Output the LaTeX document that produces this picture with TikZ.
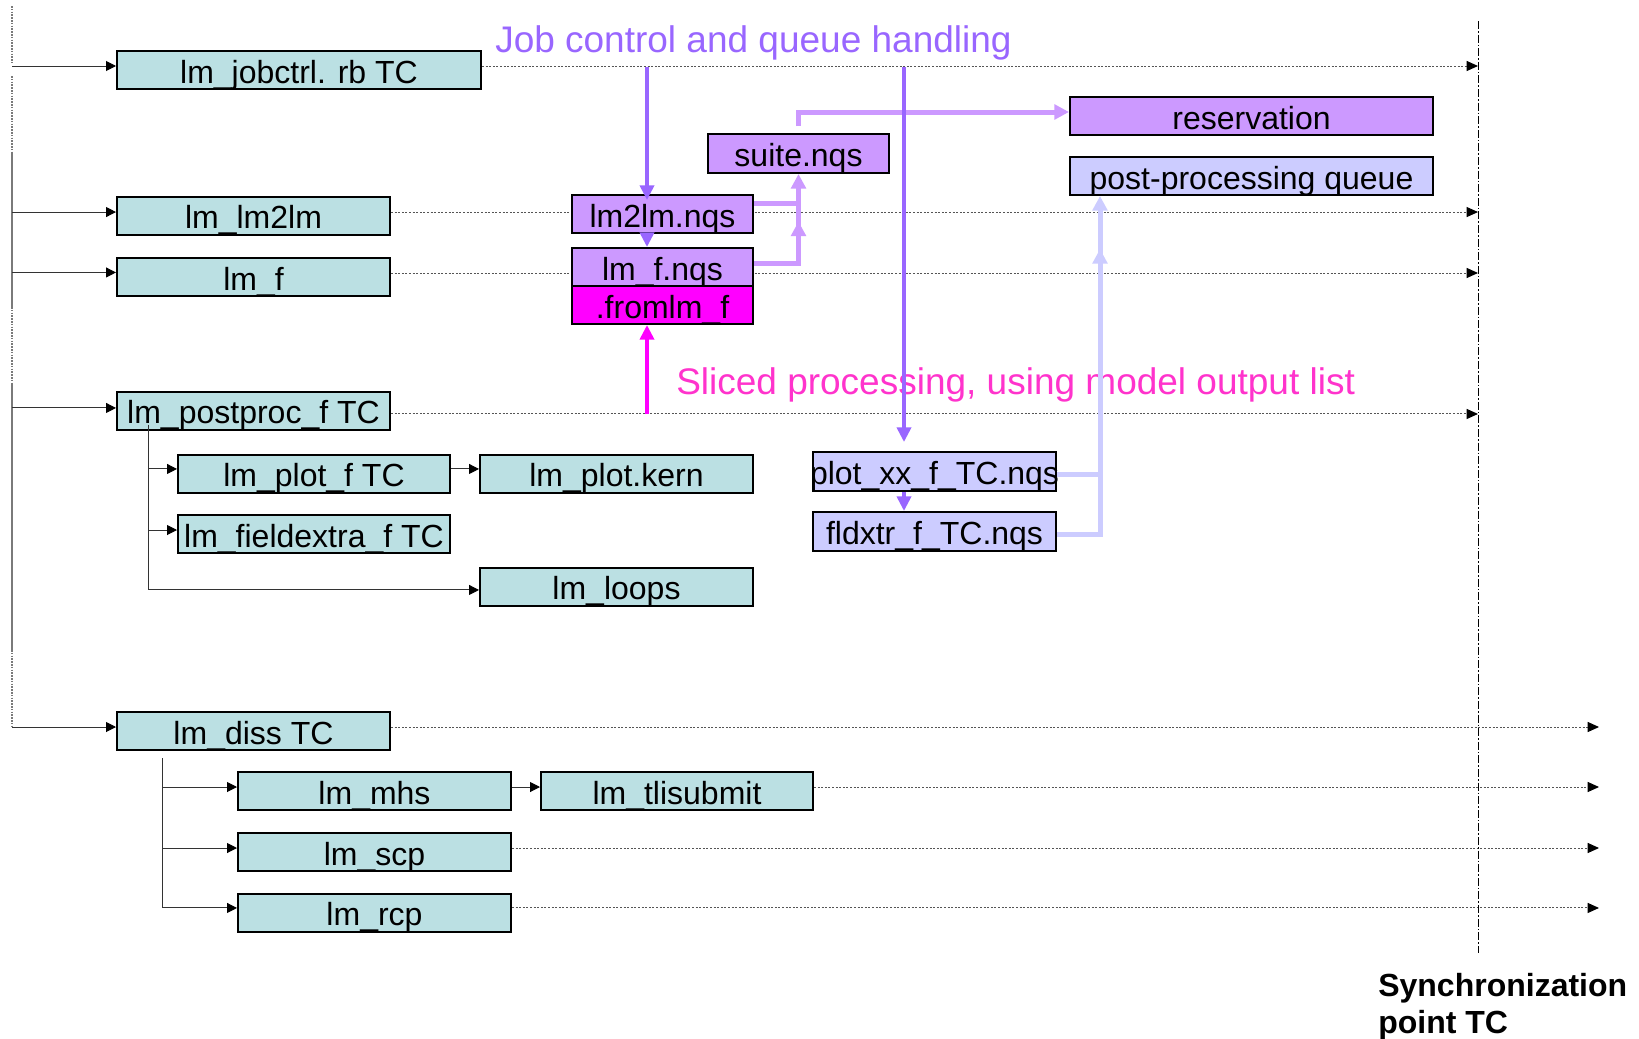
\documentclass[tikz,border=0pt]{standalone}
\usepackage{fontspec}
\setmainfont{Liberation Sans}
\usetikzlibrary{arrows.meta,calc,backgrounds,decorations.markings}
\definecolor{tealbox}{HTML}{BBE0E3}
\definecolor{purbox}{HTML}{CC99FF}
\definecolor{lavbox}{HTML}{CCCCFF}
\definecolor{magbox}{HTML}{FF00FF}
\definecolor{jobcol}{HTML}{9966FF}
\definecolor{slicol}{HTML}{FF33CC}
\definecolor{dotcol}{HTML}{555555}
\definecolor{treecol}{HTML}{333333}
\definecolor{spinecol}{HTML}{7A7A7A}
\tikzset{
  box/.style={draw=black, line width=1.5pt, inner sep=0pt, font=\fontsize{24}{28}\selectfont, text height=19.5pt, text depth=0pt},
  sz/.style 2 args={minimum width=#1*0.75pt, minimum height=#2*0.75pt},
  tbox/.style={box, fill=tealbox},
  pbox/.style={box, fill=purbox},
  lbox/.style={box, fill=lavbox},
  mbox/.style={box, fill=magbox},
  dotline/.style={draw=dotcol, line width=0.75pt, dash pattern=on 1.5pt off 1.2pt, -{Triangle[length=8.5pt,width=7.5pt,black]}},
  tarr/.style={draw=treecol, line width=0.75pt, -{Triangle[length=7.5pt,width=7.5pt,black]}},
  spsolid/.style={draw=spinecol, line width=1.5pt},
  spdot/.style={draw=spinecol, line width=1.5pt, dash pattern=on 1.2pt off 0.9pt},
  syncl/.style={draw=black, line width=0.75pt, dash pattern=on 6pt off 1.5pt on 1.2pt off 1.5pt},
  jarrow/.style={draw=jobcol, line width=3pt, -{Triangle[length=11pt,width=10.5pt]}},
  marrow/.style={draw=magbox, line width=3pt, -{Triangle[length=11pt,width=10.5pt]}},
  lpline/.style={draw=purbox, line width=3.75pt},
  lvline/.style={draw=lavbox, line width=3.75pt},
  ltip/.style={-{Triangle[length=11pt,width=11pt]}},
  midarr/.style={postaction=decorate, decoration={markings, mark=at position #1 with {\arrow{Triangle[length=11pt,width=11pt]}}}},
  bigtext/.style={anchor=base west, inner sep=0pt, font=\fontsize{27.75}{32}\selectfont},
  synctext/.style={anchor=base west, inner sep=0pt, font=\bfseries\fontsize{24}{28}\selectfont}
}
\begin{document}
\begin{tikzpicture}[x=0.75pt,y=-0.75pt]
\useasboundingbox (0,0) rectangle (1639,1039);

% boxes
\node[tbox, sz={364}{38}] (jobctrl) at (299,70) {lm\_jobctrl. rb TC};
\node[tbox, sz={273}{38}] (lmlm) at (253.5,215.5) {lm\_lm2lm};
\node[tbox, sz={273}{38}] (lmf) at (253.5,277) {lm\_f};
\node[tbox, sz={273}{38}] (post) at (253.5,410.5) {lm\_postproc\_f TC};
\node[tbox, sz={272}{38}] (plotf) at (314,473.5) {lm\_plot\_f TC};
\node[tbox, sz={273}{38}] (kern) at (616.5,473.5) {lm\_plot.kern};
\node[tbox, sz={272}{38}] (fex) at (314,534) {lm\_fieldextra\_f TC};
\node[tbox, sz={273}{38}] (loops) at (616.5,586.5) {lm\_loops};
\node[tbox, sz={273}{38}] (diss) at (253.5,731) {lm\_diss TC};
\node[tbox, sz={273}{38}] (mhs) at (374.5,791) {lm\_mhs};
\node[tbox, sz={272}{38}] (tli) at (677,791) {lm\_tlisubmit};
\node[tbox, sz={273}{38}] (scp) at (374.5,852) {lm\_scp};
\node[tbox, sz={273}{38}] (rcp) at (374.5,912.5) {lm\_rcp};
\node[pbox, sz={181}{38}] (lm2lmq) at (662.5,214) {lm2lm.nqs};
\node[pbox, sz={181}{38}] (lmfq) at (662.5,267) {lm\_f.nqs};
\node[mbox, sz={181}{38}] (froml) at (662.5,305) {.fromlm\_f};
\node[pbox, sz={181}{39}] (suite) at (798.5,153.5) {suite.nqs};
\node[pbox, sz={363}{38}] (resv) at (1251.5,116) {reservation};
\node[lbox, sz={363}{38}] (postq) at (1251.5,176) {post-processing queue};
\node[lbox, sz={243}{39}] (plotxx) at (934.5,471.5) {\makebox[0pt]{plot\_xx\_f\_TC.nqs}};
\node[lbox, sz={243}{39}] (fldx) at (934.5,531.5) {fldxtr\_f\_TC.nqs};

% texts
\node[bigtext, text=jobcol] (jobtitle) at (495,52) {Job control and queue handling};
\node[bigtext, text=slicol] (slicetitle) at (676,394) {Sliced processing, using model output list};
\node[synctext] (sync1) at (1378,996) {Synchronization};
\node[synctext] (sync2) at (1378,1033) {point TC};

% reference coordinates
\coordinate (syncx) at (1478,0);
\coordinate (farx) at (1599,0);
\coordinate (spx) at (12,0);
\coordinate (pvx) at (148,0);
\coordinate (dvx) at (162,0);
\coordinate (lvx) at (1100,0);

% timeline dotted lines (behind boxes)
\begin{scope}[on background layer]
\path[fill=white] (0,0) rectangle (1639,1039);
\coordinate (d1) at ([yshift=3pt]jobctrl.east);
\coordinate (d2) at ([yshift=2.6pt]lmlm.east);
\coordinate (d3) at ([yshift=3pt]lmf.east);
\coordinate (d4) at ([yshift=-2.6pt]post.east);
\coordinate (e1) at ([yshift=3pt]diss.east);
\coordinate (e2) at ([yshift=3pt]tli.east);
\coordinate (e3) at ([yshift=3pt]scp.east);
\coordinate (e4) at ([yshift=3.4pt]rcp.east);
\draw[dotline] (d1) -- (d1 -| syncx);
\draw[dotline] (d2) -- (d2 -| syncx);
\draw[dotline] (d3) -- (d3 -| syncx);
\draw[dotline] (d4) -- (d4 -| syncx);
\draw[dotline] (e1) -- (e1 -| farx);
\draw[dotline] (e2) -- (e2 -| farx);
\draw[dotline] (e3) -- (e3 -| farx);
\draw[dotline] (e4) -- (e4 -| farx);
\end{scope}

% synchronization line
\draw[syncl] (1478,21) -- (1478,953);

% left spine
\draw[spdot] (12,6) -- (12,63);
\draw[spdot] (12,76) -- (12,152);
\draw[spsolid] (12,152) -- (12,307);
\draw[spdot] (12,307) -- (12,384);
\draw[spsolid] (12,384) -- (12,650);
\draw[spdot] (12,650) -- (12,727);

\coordinate (a1) at ([yshift=3pt]jobctrl.west);
\coordinate (a2) at ([yshift=2.6pt]lmlm.west);
\coordinate (a3) at ([yshift=3.4pt]lmf.west);
\coordinate (a4) at ([yshift=1.9pt]post.west);
\coordinate (a5) at ([yshift=3pt]diss.west);
\draw[tarr] (a1 -| spx) -- (a1);
\draw[tarr] (a2 -| spx) -- (a2);
\draw[tarr] (a3 -| spx) -- (a3);
\draw[tarr] (a4 -| spx) -- (a4);
\draw[tarr] (a5 -| spx) -- (a5);

% postproc subtree
\coordinate (b1) at ([yshift=3.4pt]plotf.west);
\coordinate (b2) at ([yshift=3pt]fex.west);
\coordinate (b3) at ([yshift=-2.6pt]loops.west);
\coordinate (b4) at ([yshift=3.4pt]plotf.east);
\draw[tarr] ($(post.south -| pvx)+(0,-6)$) |- (b3);
\draw[tarr] (b1 -| pvx) -- (b1);
\draw[tarr] (b2 -| pvx) -- (b2);
\draw[tarr] (b4) -- (b4 -| kern.west);

% diss subtree
\coordinate (c1) at ([yshift=3pt]mhs.west);
\coordinate (c2) at ([yshift=3pt]scp.west);
\coordinate (c3) at ([yshift=3.4pt]rcp.west);
\coordinate (c4) at ([yshift=3pt]mhs.east);
\draw[tarr] ($(diss.south -| dvx)+(0,7)$) |- (c3);
\draw[tarr] (c1 -| dvx) -- (c1);
\draw[tarr] (c2 -| dvx) -- (c2);
\draw[tarr] (c4) -- (c4 -| tli.west);

% light purple connectors
\coordinate (q1) at ([yshift=8.25pt]lm2lmq.east);
\draw[lpline] (q1) -- (q1 -| suite.south);
\draw[lpline, ltip, midarr=64.5pt] ([yshift=3pt]lmfq.east) -| (suite.south);
\draw[lpline, ltip] ([yshift=5.25pt]suite.north) |- ([yshift=3pt]resv.west);

% lavender connectors
\coordinate (q2) at ([yshift=-2.6pt]plotxx.east);
\draw[lvline] (q2) -- (q2 -| lvx);
\draw[lvline, ltip, midarr=246pt] ([yshift=-1.9pt]fldx.east) -| (postq.south -| lvx);

% job control arrows
\coordinate (j1) at (647,67);
\coordinate (j2) at (904,67);
\draw[jarrow] (j1) -- ($(j1 |- lm2lmq.north)+(0,6)$);
\draw[jarrow] (j1 |- lm2lmq.south) -- (j1 |- lmfq.north);
\draw[jarrow] (j2) -- ($(j2 |- plotxx.north)+(0,-9)$);
\draw[jarrow] (j2 |- plotxx.south) -- (j2 |- fldx.north);

% sliced processing arrow
\coordinate (m1) at (647,414);
\draw[marrow] (m1) -- (m1 |- froml.south);
\end{tikzpicture}
\end{document}
